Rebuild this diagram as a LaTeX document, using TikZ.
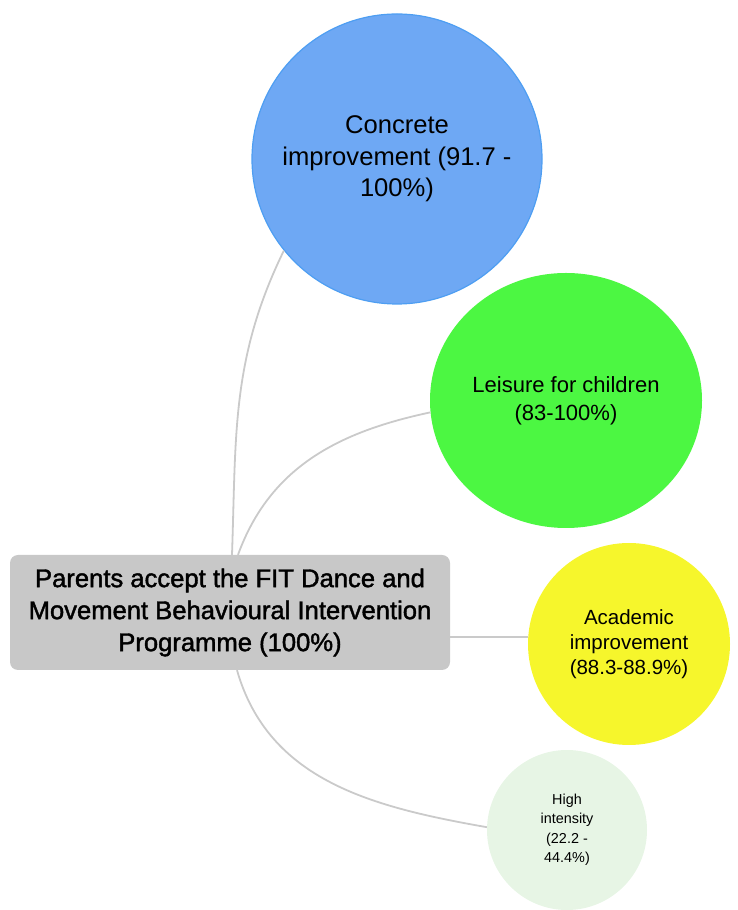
\documentclass[tikz,border=0pt]{standalone}
\usepackage{fontspec}
\setmainfont{Liberation Sans}
\newfontface\rootfont{Liberation Sans}[FakeBold=1.6]
\usetikzlibrary{arrows,shapes.geometric}
\definecolor{rootgray}{HTML}{C8C8C8}
\definecolor{linkgray}{HTML}{CACACA}
\definecolor{bluefill}{HTML}{6EA8F4}
\definecolor{blueedge}{HTML}{4E9EF2}
\definecolor{greenfill}{HTML}{4CF742}
\definecolor{yellowfill}{HTML}{F6F62C}
\definecolor{palefill}{HTML}{E7F5E5}

\begin{document}
\begin{tikzpicture}
[x=1pt,y=1pt,every node/.style={align=center,inner sep=0pt,text=black},
 bubble/.style={circle,draw=none},
 link/.style={draw=linkgray,line width=1.8pt}]
\useasboundingbox (0,0) rectangle (737,910);
            \node[rectangle,rounded corners=8pt,fill=rootgray,minimum width=440pt,minimum height=115pt,font=\rootfont\fontsize{25.6}{32}\selectfont] (0) at (230,297.5) {Parents accept the FIT Dance and\\Movement Behavioural Intervention\\Programme (100\%)};
            \node[bubble,fill=bluefill,draw=blueedge,line width=1.2pt,minimum size=290pt,font=\fontsize{25.6}{31.5}\selectfont] (1) at (397,751) {Concrete\\improvement (91.7 -\\100\%)};
            \node[ellipse,fill=greenfill,minimum width=272pt,minimum height=255pt,font=\fontsize{22}{28}\selectfont] (2) at (566,509.5) {Leisure for children\\(83-100\%)};
            \node[bubble,fill=yellowfill,minimum size=202pt,font=\fontsize{20.5}{25}\selectfont] (3) at (629,266) {Academic\\improvement\\(88.3-88.9\%)};
            \node[bubble,fill=palefill,minimum size=160pt,font=\fontsize{14.4}{19.5}\selectfont] (4) at (567,80) {High\\intensity\\(22.2 -\\44.4\%)};
            \path[link] ([xshift=2pt]0.north) edge[out=88,in=244] (1.219)
                        ([xshift=8pt]0.north) edge[out=70,in=192] (2.185)
                        (3.176) edge (3.176 -| 0.east)
                        ([xshift=7pt]0.south) edge[out=-74,in=170] (4.178);
\end{tikzpicture}
\end{document}
